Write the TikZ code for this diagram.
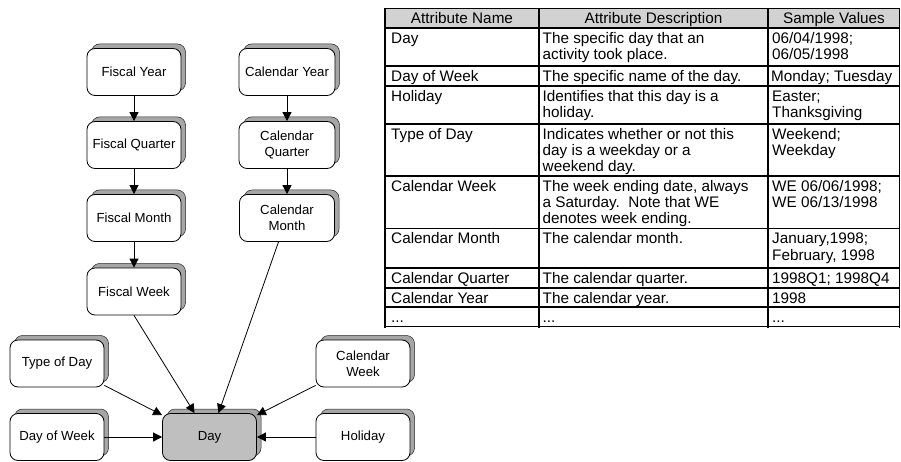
\documentclass[tikz,border=0pt]{standalone}
\usepackage{fontspec}
\setmainfont{Liberation Sans}
\usetikzlibrary{arrows.meta,shadows}

\newcommand\boxfont{\fontsize{13.2}{16}\selectfont}
\newcommand\tabfont{\fontsize{15.3}{16.3}\selectfont}
\newcommand\cellstrut{\rule{0pt}{12pt}}

\tikzset{
  entity/.style={draw=black, line width=0.8pt, fill=white, rounded corners=8pt,
    minimum width=94pt, minimum height=47pt, inner sep=0pt, align=center,
    font=\boxfont,
    copy shadow={shadow xshift=4.5pt, shadow yshift=4.5pt,
      fill=gray!70, draw=black!85, line width=0.5pt}},
  keyentity/.style={entity, fill=gray!50},
  link/.style={draw=black, line width=0.8pt,
    -{Triangle[length=9pt,width=9pt]}},
  hgrid/.style={line width=1.5pt, line cap=rect},
  vgrid/.style={line width=1.8pt, line cap=rect},
  headcell/.style={anchor=base, inner sep=0pt, font=\tabfont},
  cell/.style={anchor=north west, inner sep=0pt, align=left, font=\tabfont},
}

\begin{document}
\begin{tikzpicture}[x=1pt, y=-1pt]
\useasboundingbox (0,0) rectangle (901,462);

% ---------- hierarchy of the date dimension ----------
\node[entity] (fy)  at (134,72)    {Fiscal Year};
\node[entity] (fq)  at (134,145)   {Fiscal Quarter};
\node[entity] (fm)  at (134,218)   {Fiscal Month};
\node[entity] (fw)  at (134,291.5) {Fiscal Week};

\node[entity, minimum width=96pt] (cy) at (287,72)  {Calendar Year};
\node[entity, minimum width=96pt] (cq) at (287,145) {Calendar\\Quarter};
\node[entity, minimum width=95pt] (cm) at (287,218) {Calendar\\Month};

\node[entity] (tod) at (57,363.5)  {Type of Day};
\node[entity] (dow) at (57,437)    {Day of Week};
\node[keyentity] (day) at (209.5,437) {Day};
\node[entity] (cw)  at (363,363.5) {Calendar\\Week};
\node[entity] (hol) at (363,437)   {Holiday};

\draw[link] (fy) -- (fq);
\draw[link] (fq) -- (fm);
\draw[link] (fm) -- (fw);
\draw[link] (cy) -- (cq);
\draw[link] (cq) -- (cm);
\draw[link] (fw.south) -- ([xshift=-15pt]day.north);
\draw[link] ([xshift=-8.5pt]cm.south) -- ([xshift=9pt]day.north);
\draw[link] ([yshift=2pt]tod.south east) -- ([yshift=-2pt]day.north west);
\draw[link] ([yshift=2pt]cw.south west) -- ([yshift=-2pt]day.north east);
\draw[link] (dow) -- (day);
\draw[link] (hol) -- (day);

% ---------- attribute table ----------
\fill[gray!35] (385,8.5) rectangle (899.5,28);
\foreach \r in {8.5,28,66,86,124,176,228.5,268,288,307,326.7}
  \draw[hgrid] (385,\r) -- (899.5,\r);
\foreach \c in {385,539,768,899.5}
  \draw[vgrid] (\c,8.5) -- (\c,326.7);

\node[headcell] (hname) at (462,23.7)   {Attribute Name};
\node[headcell] (hdesc) at (653.5,23.7) {Attribute Description};
\node[headcell] (hval)  at (834,23.7)   {Sample Values};

% rows: name column, description column, sample column
\node[cell] (n1) at (391,31)  {\cellstrut Day};
\node[cell] (d1) at (542.5,31) {\cellstrut The specific day that an\\activity took place.};
\node[cell] (v1) at (772,31)  {\cellstrut 06/04/1998;\\06/05/1998};

\node[cell] (n2) at (391,69)  {\cellstrut Day of Week};
\node[cell] (d2) at (542.5,69) {\cellstrut The specific name of the day.};
\node[cell] (v2) at (771,69)  {\cellstrut Monday; Tuesday};

\node[cell] (n3) at (391,89)  {\cellstrut Holiday};
\node[cell] (d3) at (542.5,89) {\cellstrut Identifies that this day is a\\holiday.};
\node[cell] (v3) at (772,89)  {\cellstrut Easter;\\Thanksgiving};

\node[cell] (n4) at (391,127)  {\cellstrut Type of Day};
\node[cell] (d4) at (542.5,127) {\cellstrut Indicates whether or not this\\day is a weekday or a\\weekend day.};
\node[cell] (v4) at (772,127)  {\cellstrut Weekend;\\Weekday};

\node[cell] (n5) at (391,179)  {\cellstrut Calendar Week};
\node[cell] (d5) at (542.5,179) {\cellstrut The week ending date, always\\a Saturday.\ \ Note that WE\\denotes week ending.};
\node[cell] (v5) at (772,179)  {\cellstrut WE 06/06/1998;\\WE 06/13/1998};

\node[cell] (n6) at (391,231.5)  {\cellstrut Calendar Month};
\node[cell] (d6) at (542.5,231.5) {\cellstrut The calendar month.};
\node[cell] (v6) at (772,231.5)  {\cellstrut January,1998;\\February, 1998};

\node[cell] (n7) at (391,271)  {\cellstrut Calendar Quarter};
\node[cell] (d7) at (542.5,271) {\cellstrut The calendar quarter.};
\node[cell] (v7) at (772,271)  {\cellstrut 1998Q1; 1998Q4};

\node[cell] (n8) at (391,291)  {\cellstrut Calendar Year};
\node[cell] (d8) at (542.5,291) {\cellstrut The calendar year.};
\node[cell] (v8) at (772,291)  {\cellstrut 1998};

\node[cell] (n9) at (391,310)  {\cellstrut ...};
\node[cell] (d9) at (542.5,310) {\cellstrut ...};
\node[cell] (v9) at (772,310)  {\cellstrut ...};
\end{tikzpicture}
\end{document}
